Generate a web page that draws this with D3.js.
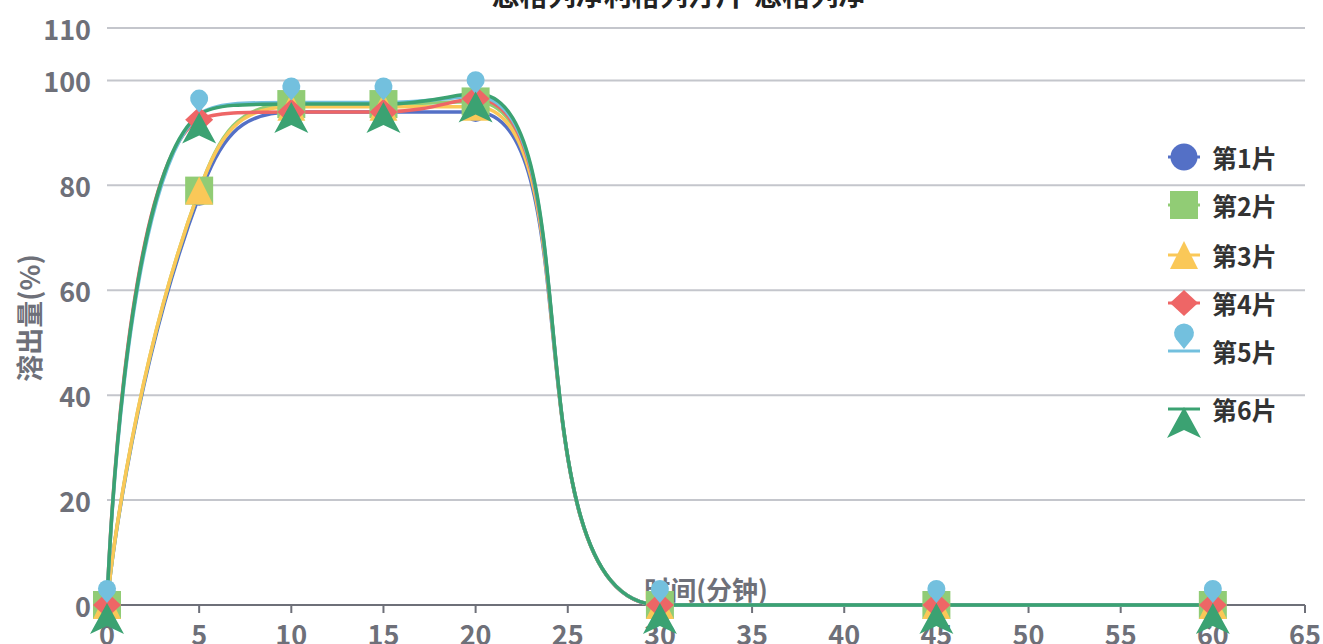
<!DOCTYPE html>
<html><head><meta charset="utf-8">
<script src="https://cdn.jsdelivr.net/npm/d3@7"></script>
<style>
html,body{margin:0;padding:0;background:#fff;}
svg{display:block;font-family:"Noto Sans CJK SC","Noto Sans",sans-serif;}
</style></head>
<body><svg id="c" width="1323" height="644"></svg>
<script>
// ---- data ----
const title = "恩格列净利格列汀片-恩格列净";
const xName = "时间(分钟)";
const yName = "溶出量(%)";
const times = [0, 5, 10, 15, 20, 30, 45, 60];
const seriesNames = ["第1片", "第2片", "第3片", "第4片", "第5片", "第6片"];
const tablet1 = [0, 78, 94, 94, 94, 0, 0, 0];
const tablet2 = [0, 79, 95.5, 95.5, 96, 0, 0, 0];
const tablet3 = [0, 79, 95, 95, 95, 0, 0, 0];
const tablet4 = [0, 92.5, 94, 94, 96.5, 0, 0, 0];
const tablet5 = [0, 93.5, 95.8, 95.8, 97, 0, 0, 0];
const tablet6 = [0, 93.5, 95.5, 95.5, 97.5, 0, 0, 0];
const xTicks = [0, 5, 10, 15, 20, 25, 30, 35, 40, 45, 50, 55, 60, 65];
const yTicks = [0, 20, 40, 60, 80, 100, 110];

const seriesValues = [tablet1, tablet2, tablet3, tablet4, tablet5, tablet6];
const colors = ["#5470c6", "#91cc75", "#fac858", "#ee6666", "#73c0de", "#3ba272"];
const symbols = ["circle", "rect", "triangle", "diamond", "pin", "arrow"];

const svg = d3.select("#c");
const x = d3.scaleLinear().domain([0, 65]).range([107, 1305]);
const y = d3.scaleLinear().domain([0, 110]).range([605, 28]);

// smooth curve in the style of a clamped bezier spline (smooth = 0.5)
function SmoothCurve(context) { this._context = context; }
SmoothCurve.prototype = {
  areaStart() {}, areaEnd() {},
  lineStart() { this._pts = []; },
  point(px, py) { this._pts.push([+px, +py]); },
  lineEnd() {
    const c = this._context, p = this._pts, n = p.length, smooth = 0.5;
    if (!n) return;
    let cpx0 = p[0][0], cpy0 = p[0][1];
    c.moveTo(p[0][0], p[0][1]);
    const mn = Math.min, mx = Math.max;
    for (let i = 1; i < n; i++) {
      const [xx, yy] = p[i], [prevX, prevY] = p[i - 1];
      let cpx1, cpy1, nCx = xx, nCy = yy;
      if (i === n - 1) { cpx1 = xx; cpy1 = yy; }
      else {
        const [nextX, nextY] = p[i + 1];
        let vx = nextX - prevX, vy = nextY - prevY;
        const dx0 = xx - prevX, dy0 = yy - prevY, dx1 = nextX - xx, dy1 = nextY - yy;
        const lp = Math.sqrt(dx0 * dx0 + dy0 * dy0), ln = Math.sqrt(dx1 * dx1 + dy1 * dy1);
        const r = ln / (ln + lp);
        nCx = xx + vx * smooth * r; nCy = yy + vy * smooth * r;
        nCx = mx(mn(nCx, mx(nextX, xx)), mn(nextX, xx));
        nCy = mx(mn(nCy, mx(nextY, yy)), mn(nextY, yy));
        vx = nCx - xx; vy = nCy - yy;
        cpx1 = xx - vx * lp / ln; cpy1 = yy - vy * lp / ln;
        cpx1 = mx(mn(cpx1, mx(prevX, xx)), mn(prevX, xx));
        cpy1 = mx(mn(cpy1, mx(prevY, yy)), mn(prevY, yy));
        vx = xx - cpx1; vy = yy - cpy1;
        nCx = xx + vx * ln / lp; nCy = yy + vy * ln / lp;
      }
      c.bezierCurveTo(cpx0, cpy0, cpx1, cpy1, xx, yy);
      cpx0 = nCx; cpy0 = nCy;
    }
  }
};
const smoothCurve = ctx => new SmoothCurve(ctx);

function symbolPath(type, k) {
  k = k || 1;
  switch (type) {
    case "circle": { const r = 10 * k; return `M${-r},0A${r},${r} 0 1 1 ${r},0A${r},${r} 0 1 1 ${-r},0Z`; }
    case "rect": { const h = 14; return `M${-h},${-h}H${h}V${h}H${-h}Z`; }
    case "triangle": return "M0,-14L14,14L-14,14Z";
    case "diamond": return "M0,-13L14,0L0,13L-14,0Z";
    case "pin": { const r = 9 * k, cy = -16 * k, tip = -2;
      return `M${-r*0.8},${cy + r*0.6}A${r},${r} 0 1 1 ${r*0.8},${cy + r*0.6}L0,${tip}Z`; }
    case "arrow": return "M0,-2L17,29L0,21L-17,29Z";
  }
}

// grid lines
svg.append("g").selectAll("line").data(yTicks.filter(d => d > 0)).join("line")
  .attr("x1", x(0)).attr("x2", x(65))
  .attr("y1", d => y(d)).attr("y2", d => y(d))
  .attr("stroke", "#c4c6cc").attr("stroke-width", 2);

// y labels
svg.append("g").selectAll("text").data(yTicks).join("text")
  .attr("x", 91).attr("y", d => y(d)).attr("text-anchor", "end")
  .attr("dominant-baseline", "central")
  .attr("font-size", 27).attr("font-weight", 700).attr("fill", "#6e7079")
  .text(d => d);

// x axis
const xa = svg.append("g");
xa.append("line").attr("x1", x(0)).attr("x2", x(65)).attr("y1", y(0)).attr("y2", y(0))
  .attr("stroke", "#6e7079").attr("stroke-width", 2);
xa.selectAll("line.t").data(xTicks).join("line").attr("class", "t")
  .attr("x1", d => x(d)).attr("x2", d => x(d)).attr("y1", y(0)).attr("y2", y(0) + 8)
  .attr("stroke", "#6e7079").attr("stroke-width", 2);
xa.selectAll("text").data(xTicks).join("text")
  .attr("x", d => x(d)).attr("y", 633).attr("text-anchor", "middle")
  .attr("dominant-baseline", "central")
  .attr("font-size", 27).attr("font-weight", 700).attr("fill", "#6e7079")
  .text(d => d);

// axis names
svg.append("text").attr("x", (x(0) + x(65)) / 2).attr("y", 588)
  .attr("text-anchor", "middle").attr("dominant-baseline", "central")
  .attr("font-size", 26).attr("font-weight", 700).attr("fill", "#6e7079").text(xName);
svg.append("text").attr("transform", "translate(28,318) rotate(-90)")
  .attr("text-anchor", "middle").attr("dominant-baseline", "central")
  .attr("font-size", 27).attr("font-weight", 700).attr("fill", "#6e7079").text(yName);

// lines
const line = d3.line().x(d => x(d[0])).y(d => y(d[1])).curve(smoothCurve);
svg.append("g").selectAll("path").data(seriesValues).join("path")
  .attr("d", vals => line(times.map((t, i) => [t, vals[i]])))
  .attr("fill", "none").attr("stroke", (d, i) => colors[i]).attr("stroke-width", 3.5);

// markers
seriesValues.forEach((vals, si) => {
  svg.append("g").selectAll("path").data(times.map((t, i) => [t, vals[i]])).join("path")
    .attr("transform", d => `translate(${x(d[0])},${y(d[1])})`)
    .attr("d", symbolPath(symbols[si]))
    .attr("fill", colors[si]);
});

// legend
const legendY = [157, 205, 255, 303, 351, 409];
const lg = svg.append("g");
seriesNames.forEach((name, i) => {
  const g = lg.append("g").attr("transform", `translate(1184,${legendY[i]})`);
  g.append("line").attr("x1", -16).attr("x2", 16).attr("stroke", colors[i]).attr("stroke-width", 3);
  g.append("path").attr("d", symbolPath(symbols[i], symbols[i] === "circle" ? 1.35 : 1.1)).attr("fill", colors[i]);
  g.append("text").attr("x", 28).attr("y", 0).attr("dominant-baseline", "central")
    .attr("font-size", 25).attr("font-weight", 700).attr("fill", "#333").text(name);
});

// title (cut off at top)
svg.append("text").attr("x", 679).attr("y", 6).attr("text-anchor", "middle")
  .attr("font-size", 28).attr("font-weight", 700).attr("fill", "#222").text(title);
</script>
</body></html>
